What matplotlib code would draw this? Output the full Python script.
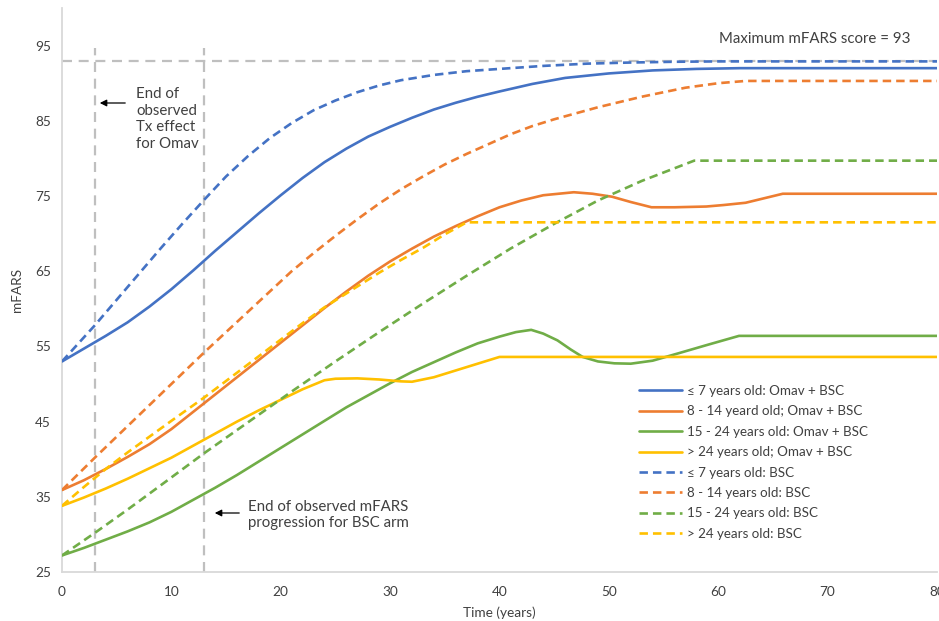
import matplotlib
matplotlib.use("Agg")
import matplotlib.pyplot as plt

plt.rcParams['font.family'] = ['Lato', 'DejaVu Sans']

# ---- data -------------------------------------------------------------
# <=7 years old
y7_omav_years = [0, 2, 4, 6, 8, 10, 12, 14, 16, 18, 20, 22, 24, 26, 28, 30, 32, 34, 36, 38, 40,
                 43, 46, 50, 54, 58, 62, 66, 80]
y7_omav_vals = [53.0, 54.7, 56.4, 58.2, 60.3, 62.6, 65.1, 67.7, 70.2, 72.7, 75.1, 77.4, 79.5,
                81.3, 82.9, 84.2, 85.4, 86.5, 87.4, 88.2, 88.9, 89.9, 90.7, 91.3, 91.7, 91.9,
                92.0, 92.0, 92.0]
y7_bsc_years = [0, 3, 6, 9, 11, 13, 15, 17, 19, 21, 23, 25, 27, 29, 31, 34, 37, 40, 44, 48, 52,
                56, 60, 80]
y7_bsc_vals = [53.0, 57.8, 62.9, 68.0, 71.3, 74.5, 77.6, 80.3, 82.7, 84.7, 86.4, 87.7, 88.8,
               89.7, 90.4, 91.1, 91.6, 91.9, 92.3, 92.6, 92.75, 92.85, 92.9, 92.9]

# 8 - 14 years old
y14_omav_years = [0, 2, 4, 6, 8, 10, 12, 14, 16, 18, 20, 22, 24, 26, 28, 30, 32, 34, 36, 38, 40,
                  42, 44, 46.8, 48.5, 50.3, 52, 53.9, 56, 58.9, 60.5, 62.5, 64.2, 65.9, 80]
y14_omav_vals = [35.9, 37.2, 38.7, 40.3, 42.0, 44.0, 46.3, 48.6, 50.9, 53.2, 55.5, 57.8, 60.1,
                 62.3, 64.4, 66.3, 68.0, 69.6, 71.0, 72.3, 73.5, 74.4, 75.1, 75.5, 75.3, 74.9,
                 74.2, 73.5, 73.5, 73.6, 73.8, 74.1, 74.7, 75.3, 75.3]
y14_bsc_years = [0, 3, 6, 9, 11, 13, 15, 17, 19, 21, 23, 25, 27, 29, 31, 33, 35, 37, 39, 41, 43,
                 45, 47, 49, 51, 53, 55, 57, 60, 62.5, 80]
y14_bsc_vals = [35.9, 40.2, 44.4, 48.6, 51.4, 54.2, 56.9, 59.6, 62.3, 65.0, 67.4, 69.7, 71.9,
                74.0, 75.9, 77.6, 79.2, 80.6, 81.9, 83.2, 84.3, 85.2, 86.0, 86.8, 87.5, 88.2,
                88.8, 89.4, 90.0, 90.3, 90.3]

# 15 - 24 years old
y24_omav_years = [0, 2, 4, 6, 8, 10, 12, 14, 16, 18, 20, 22, 24, 26, 28, 30, 32, 34, 36, 38, 40,
                  41.5, 42.9, 44, 45.3, 46.5, 47.6, 49, 50.5, 52, 54, 56.4, 59, 61.9, 80]
y24_omav_vals = [27.2, 28.2, 29.3, 30.4, 31.6, 33.0, 34.6, 36.2, 37.9, 39.7, 41.5, 43.3, 45.1,
                 46.9, 48.5, 50.1, 51.6, 52.9, 54.2, 55.4, 56.3, 56.9, 57.2, 56.7, 55.8, 54.6,
                 53.6, 53.0, 52.75, 52.7, 53.1, 54.1, 55.2, 56.4, 56.4]
y24_bsc_years = [0, 3, 6, 9, 13, 17, 21, 25, 29, 33, 37, 41, 45, 49, 53, 57.8, 80]
y24_bsc_vals = [27.2, 30.2, 33.3, 36.5, 40.8, 44.9, 49.0, 53.0, 56.9, 60.7, 64.4, 68.0, 71.3,
                74.4, 77.0, 79.7, 79.7]

# > 24 years old
o24_omav_years = [0, 2, 4, 6, 8, 10, 12, 14, 16, 18, 20, 22, 24, 25, 27, 29, 31, 32, 34, 36, 38,
                  40, 80]
o24_omav_vals = [33.8, 34.9, 36.1, 37.4, 38.8, 40.2, 41.8, 43.4, 45.0, 46.5, 47.9, 49.3, 50.5,
                 50.7, 50.75, 50.6, 50.35, 50.3, 50.9, 51.8, 52.7, 53.6, 53.6]
o24_bsc_years = [0, 2, 4, 6, 8, 10, 13, 16, 19, 22, 24, 26.6, 29, 31, 33, 35, 37, 80]
o24_bsc_vals = [33.8, 36.3, 38.7, 40.9, 43.0, 45.1, 48.2, 51.5, 54.8, 58.1, 60.2, 62.6, 64.8,
                66.5, 68.1, 69.9, 71.5, 71.5]

series_labels = [
    "\u2264 7 years old: Omav + BSC",
    "8 - 14 yeard old; Omav + BSC",
    "15 - 24 years old: Omav + BSC",
    "> 24 years old; Omav + BSC",
    "\u2264 7 years old: BSC",
    "8 - 14 years old: BSC",
    "15 - 24 years old: BSC",
    "> 24 years old: BSC",
]

max_mfars = 93
omav_obs_end = 3
bsc_obs_end = 13

x_ticks = [0, 10, 20, 30, 40, 50, 60, 70, 80]
y_ticks = [25, 35, 45, 55, 65, 75, 85, 95]

# ---- styling ----------------------------------------------------------
BLUE = "#4472C4"
ORANGE = "#ED7D31"
GREEN = "#70AD47"
GOLD = "#FFC000"
GREY = "#BFBFBF"
TXT = "#404040"

W, H = 939, 621
fig = plt.figure(figsize=(W / 100, H / 100), dpi=100)
ax = fig.add_axes([62 / W, (H - 572) / H, (937 - 62) / W, (572 - 8) / H])

ax.set_xlim(0, 80)
ax.set_ylim(25, 100)

# reference lines
ax.plot([0, 80], [max_mfars, max_mfars], color=GREY, lw=1.6, dashes=(4.5, 3), zorder=1)
for xv in (omav_obs_end, bsc_obs_end):
    ax.plot([xv, xv], [25, 94.7], color=GREY, lw=1.6, dashes=(4.5, 3), zorder=1, clip_on=False)

lw = 1.9
dash = (3.2, 1.9)
solid = [
    (y7_omav_years, y7_omav_vals, BLUE),
    (y14_omav_years, y14_omav_vals, ORANGE),
    (y24_omav_years, y24_omav_vals, GREEN),
    (o24_omav_years, o24_omav_vals, GOLD),
]
dashed = [
    (y7_bsc_years, y7_bsc_vals, BLUE),
    (y14_bsc_years, y14_bsc_vals, ORANGE),
    (y24_bsc_years, y24_bsc_vals, GREEN),
    (o24_bsc_years, o24_bsc_vals, GOLD),
]
handles = []
for xs, ys, c in solid:
    h, = ax.plot(xs, ys, color=c, lw=lw, solid_capstyle='round', solid_joinstyle='round', zorder=3)
    handles.append(h)
for xs, ys, c in dashed:
    h, = ax.plot(xs, ys, color=c, lw=lw, dashes=dash, zorder=3)
    handles.append(h)

# axes appearance
for s in ("top", "right"):
    ax.spines[s].set_visible(False)
for s in ("left", "bottom"):
    ax.spines[s].set_color("#D9D9D9")
    ax.spines[s].set_linewidth(1.3)
ax.set_xticks(x_ticks)
ax.set_yticks(y_ticks)
ax.tick_params(length=0, labelsize=9.8, labelcolor=TXT, pad=8)
ax.tick_params(axis='x', pad=10)
ax.set_xlabel("Time (years)", fontsize=9.8, color=TXT, labelpad=6)
ax.set_ylabel("mFARS", fontsize=9.8, color=TXT, labelpad=9)

# annotations
fs = 10.8
fig.text(815 / W, 1 - 39 / H, "Maximum mFARS score = 93", fontsize=fs, color=TXT,
         ha='center', va='center')
fig.text(136 / W, 1 - 119 / H, "End of\nobserved\nTx effect\nfor Omav", fontsize=fs,
         color=TXT, ha='left', va='center', linespacing=1.26)
fig.text(248 / W, 1 - 515 / H, "End of observed mFARS\nprogression for BSC arm",
         fontsize=fs, color=TXT, ha='left', va='center', linespacing=1.26)

arrow_kw = dict(arrowstyle='-|>', color='#000000', lw=0.9, mutation_scale=10)
ax.annotate("", xy=(97 / W, 1 - 103 / H), xytext=(128 / W, 1 - 103 / H),
            xycoords='figure fraction', textcoords='figure fraction', arrowprops=arrow_kw)
ax.annotate("", xy=(212 / W, 1 - 513 / H), xytext=(242 / W, 1 - 513 / H),
            xycoords='figure fraction', textcoords='figure fraction', arrowprops=arrow_kw)

leg = ax.legend(handles, series_labels, loc='upper left',
                bbox_to_anchor=(639 / W, 1 - 385 / H), bbox_transform=fig.transFigure,
                frameon=False, fontsize=9.6, handlelength=3.2, handletextpad=0.4,
                labelspacing=0.63, borderpad=0, borderaxespad=0)
for t in leg.get_texts():
    t.set_color(TXT)

fig.savefig("out.png", dpi=100)
